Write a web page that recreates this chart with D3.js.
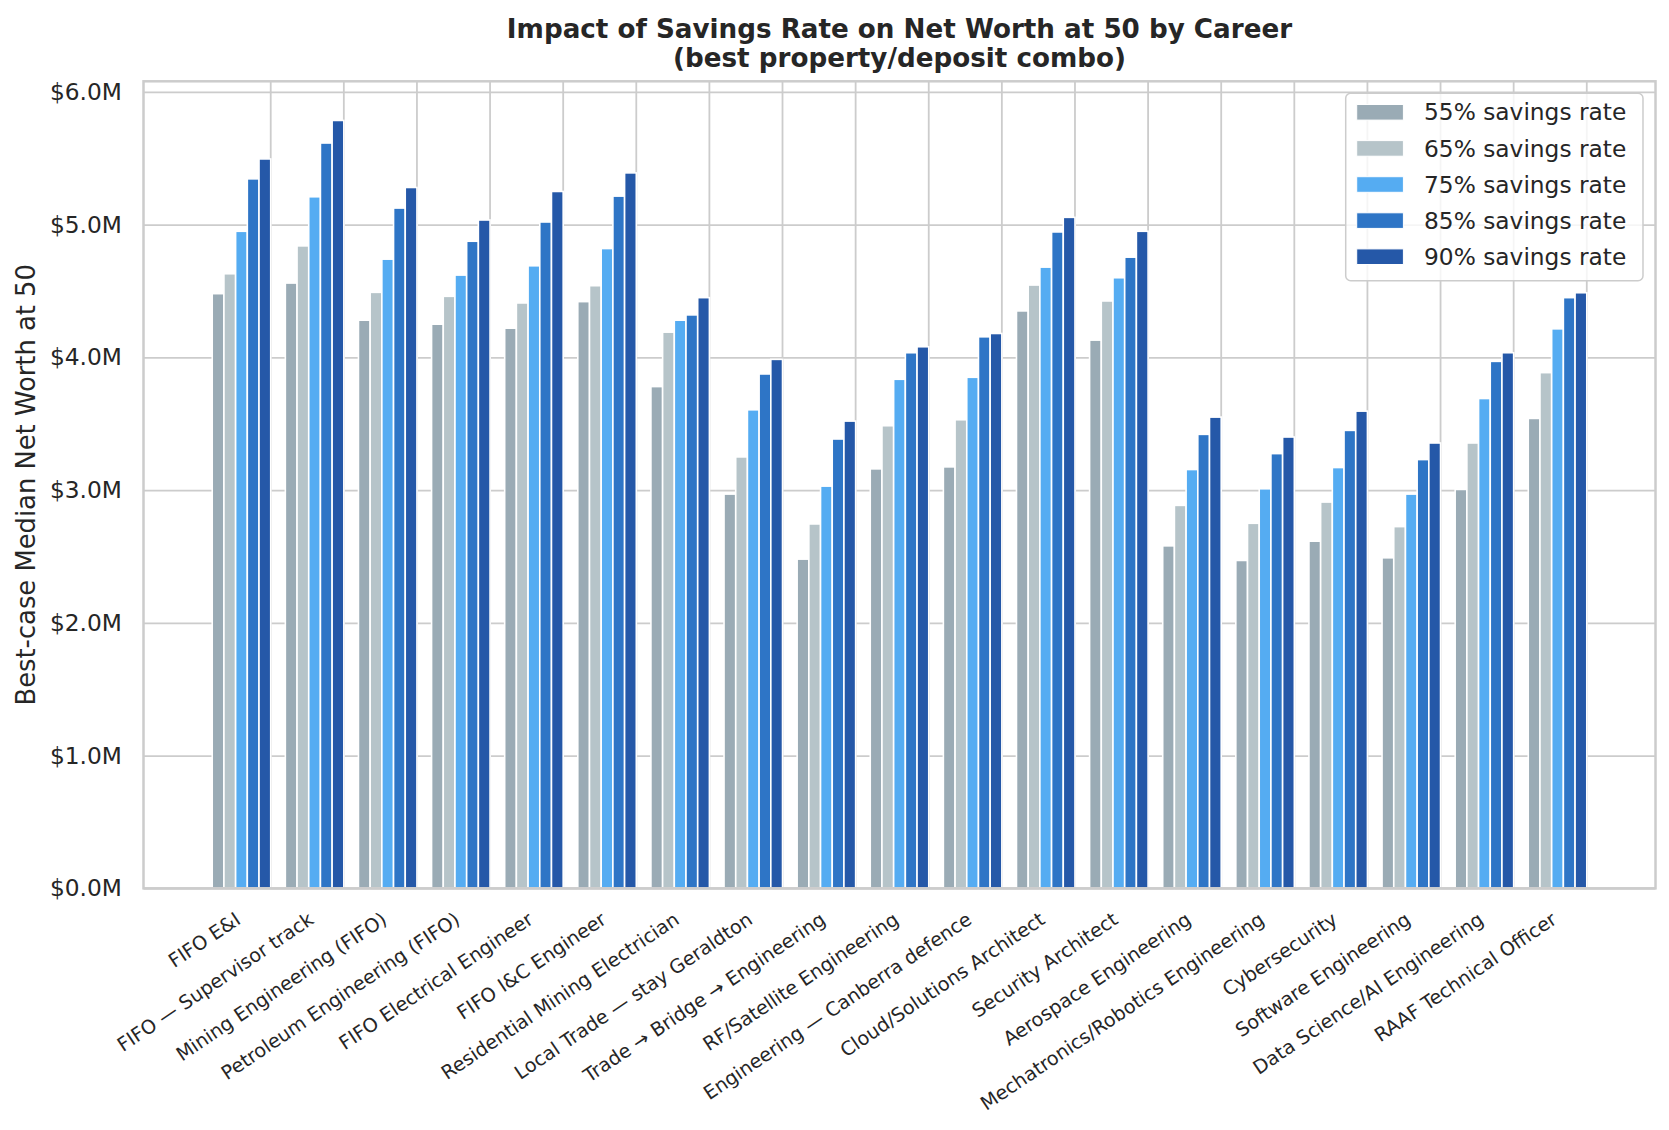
<!DOCTYPE html>
<html>
<head>
<meta charset="utf-8">
<script src="https://cdn.jsdelivr.net/npm/d3@7"></script>
<style>
  body { margin: 0; background: #fff; }
  svg { display: block; font-family: "DejaVu Sans", sans-serif; }
</style>
</head>
<body>
<svg id="chart"></svg>
<script>
// careers along the x axis
const careers = [
  "FIFO E&I",
  "FIFO \u2014 Supervisor track",
  "Mining Engineering (FIFO)",
  "Petroleum Engineering (FIFO)",
  "FIFO Electrical Engineer",
  "FIFO I&C Engineer",
  "Residential Mining Electrician",
  "Local Trade \u2014 stay Geraldton",
  "Trade \u2192 Bridge \u2192 Engineering",
  "RF/Satellite Engineering",
  "Engineering \u2014 Canberra defence",
  "Cloud/Solutions Architect",
  "Security Architect",
  "Aerospace Engineering",
  "Mechatronics/Robotics Engineering",
  "Cybersecurity",
  "Software Engineering",
  "Data Science/AI Engineering",
  "RAAF Technical Officer"
];

const seriesNames = ["55% savings rate", "65% savings rate", "75% savings rate", "85% savings rate", "90% savings rate"];
const seriesColors = ["#9aabb5", "#b6c4c9", "#55acf2", "#2e75c6", "#2558a8"];

// net worth at 50, $M
const rate55 = [4.48, 4.56, 4.28, 4.25, 4.22, 4.42, 3.78, 2.97, 2.48, 3.16, 3.175, 4.35, 4.13, 2.58, 2.47, 2.615, 2.49, 3.005, 3.54];
const rate65 = [4.63, 4.84, 4.49, 4.46, 4.41, 4.54, 4.19, 3.25, 2.745, 3.485, 3.53, 4.545, 4.425, 2.885, 2.75, 2.91, 2.725, 3.355, 3.885];
const rate75 = [4.95, 5.21, 4.74, 4.62, 4.69, 4.82, 4.28, 3.605, 3.03, 3.835, 3.85, 4.68, 4.60, 3.155, 3.01, 3.17, 2.97, 3.69, 4.215];
const rate85 = [5.345, 5.615, 5.125, 4.875, 5.02, 5.215, 4.32, 3.875, 3.385, 4.035, 4.155, 4.945, 4.755, 3.42, 3.275, 3.45, 3.23, 3.97, 4.45];
const rate90 = [5.495, 5.785, 5.28, 5.035, 5.25, 5.39, 4.45, 3.985, 3.52, 4.08, 4.18, 5.055, 4.95, 3.55, 3.40, 3.595, 3.355, 4.035, 4.487];

const yTicks = [0, 1, 2, 3, 4, 5, 6];

const allRates = [rate55, rate65, rate75, rate85, rate90];

const width = 1669, height = 1130;
const margin = { top: 81.3, right: 13.5, bottom: 241.7, left: 143.5 };
const textColor = "#262626";
const gridColor = "#cccccc";

const svg = d3.select("#chart")
  .attr("width", width)
  .attr("height", height)
  .attr("viewBox", [0, 0, width, height]);

svg.append("rect").attr("width", width).attr("height", height).attr("fill", "#fff");

const x = d3.scaleBand()
  .domain(careers)
  .range([margin.left, width - margin.right])
  .paddingInner(0.2)
  .paddingOuter(0.94);

const xSub = d3.scaleBand()
  .domain(seriesNames)
  .range([0, x.bandwidth()]);

const y = d3.scaleLinear()
  .domain([0, 6.08])
  .range([height - margin.bottom, margin.top]);

// grid
svg.append("g")
  .attr("transform", `translate(${margin.left},0)`)
  .call(d3.axisLeft(y).tickValues(yTicks).tickSize(-(width - margin.left - margin.right)).tickFormat(""))
  .call(g => g.select(".domain").remove())
  .call(g => g.selectAll("line").attr("stroke", gridColor).attr("stroke-width", 1.8));

svg.append("g")
  .attr("transform", `translate(${x.bandwidth() / 2},${margin.top})`)
  .call(d3.axisBottom(x).tickSize(height - margin.bottom - margin.top).tickFormat(""))
  .call(g => g.select(".domain").remove())
  .call(g => g.selectAll("line").attr("stroke", gridColor).attr("stroke-width", 1.8));

// bars
const rows = careers.map((c, i) => ({ career: c, values: allRates.map((r, k) => ({ key: seriesNames[k], value: r[i], color: seriesColors[k] })) }));

svg.append("g")
  .selectAll("g")
  .data(rows)
  .join("g")
    .attr("transform", d => `translate(${x(d.career)},0)`)
  .selectAll("rect")
  .data(d => d.values)
  .join("rect")
    .attr("x", d => xSub(d.key))
    .attr("y", d => y(d.value))
    .attr("width", xSub.bandwidth())
    .attr("height", d => y(0) - y(d.value))
    .attr("fill", d => d.color)
    .attr("stroke", "#fff")
    .attr("stroke-width", 1.6);

// frame
svg.append("rect")
  .attr("x", margin.left)
  .attr("y", margin.top)
  .attr("width", width - margin.left - margin.right)
  .attr("height", height - margin.bottom - margin.top)
  .attr("fill", "none")
  .attr("stroke", gridColor)
  .attr("stroke-width", 2.5);

// y axis
svg.append("g")
  .attr("transform", `translate(${margin.left},0)`)
  .call(d3.axisLeft(y).tickValues(yTicks).tickSize(0).tickPadding(21.6).tickFormat(d => `$${d.toFixed(1)}M`))
  .call(g => g.select(".domain").remove())
  .call(g => g.selectAll("text").attr("font-size", 23.3).attr("fill", textColor).attr("font-family", "DejaVu Sans"));

// x axis
svg.append("g")
  .attr("transform", `translate(0,${height - margin.bottom})`)
  .call(d3.axisBottom(x).tickSize(0))
  .call(g => g.select(".domain").remove())
  .call(g => g.selectAll("text")
    .attr("y", 0)
    .attr("dy", null)
    .attr("text-anchor", "end")
    .attr("transform", "translate(0.5,34.3) rotate(-34)")
    .attr("font-size", 19.2)
    .attr("fill", textColor)
    .attr("font-family", "DejaVu Sans"));

// y label
svg.append("text")
  .attr("transform", `translate(34.5,${(margin.top + height - margin.bottom) / 2}) rotate(-90)`)
  .attr("text-anchor", "middle")
  .attr("font-size", 25.8)
  .attr("fill", textColor)
  .text("Best-case Median Net Worth at 50");

// title
const cx = (margin.left + width - margin.right) / 2;
svg.append("text")
  .attr("x", cx).attr("y", 38)
  .attr("text-anchor", "middle")
  .attr("font-size", 26.2)
  .attr("font-weight", "bold")
  .attr("fill", textColor)
  .text("Impact of Savings Rate on Net Worth at 50 by Career");
svg.append("text")
  .attr("x", cx).attr("y", 66.5)
  .attr("text-anchor", "middle")
  .attr("font-size", 26.2)
  .attr("font-weight", "bold")
  .attr("fill", textColor)
  .text("(best property/deposit combo)");

// legend
const legend = svg.append("g").attr("transform", "translate(1345.7,93.3)");
legend.append("rect")
  .attr("width", 297.3)
  .attr("height", 187.4)
  .attr("rx", 5)
  .attr("fill", "#fff")
  .attr("fill-opacity", 0.8)
  .attr("stroke", gridColor)
  .attr("stroke-width", 1.5);

const item = legend.selectAll("g.item")
  .data(seriesNames)
  .join("g")
    .attr("class", "item")
    .attr("transform", (d, i) => `translate(0,${19 + i * 36.1})`);

item.append("rect")
  .attr("x", 11)
  .attr("y", -7.8)
  .attr("width", 46.7)
  .attr("height", 15.6)
  .attr("fill", (d, i) => seriesColors[i])
  .attr("stroke", "#fff")
  .attr("stroke-width", 1);

item.append("text")
  .attr("x", 78.3)
  .attr("dy", "0.35em")
  .attr("font-size", 23.3)
  .attr("fill", textColor)
  .text(d => d);
</script>
</body>
</html>
